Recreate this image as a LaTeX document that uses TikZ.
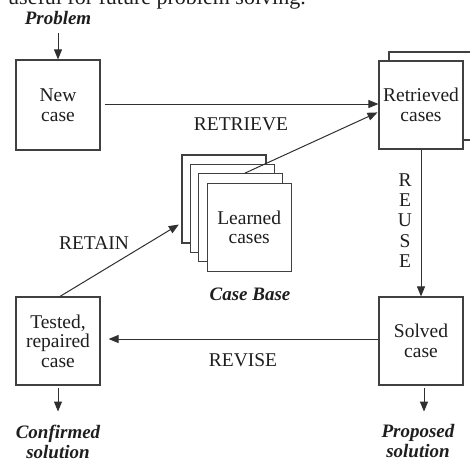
\documentclass[tikz,border=0pt]{standalone}
\usepackage{fontspec}
\setmainfont{Liberation Serif}
\usetikzlibrary{arrows.meta}
\definecolor{boxgray}{HTML}{404040}
\definecolor{linegray}{HTML}{303030}
\definecolor{txt}{HTML}{1E1E1E}
\newcommand{\lblfont}{\fontsize{19.5}{19.5}\selectfont}
\newcommand{\bifont}{\fontsize{19}{20}\selectfont\bfseries\itshape}
\begin{document}
\begin{tikzpicture}[x=1pt,y=-1pt,
  box/.style={draw=boxgray, line width=1.2pt, fill=white, minimum width=84pt,
    minimum height=88pt, inner sep=0pt, align=center, font=\lblfont, text=txt},
  lbl/.style={font=\lblfont, inner sep=0pt, text=txt, align=center},
  bi/.style={font=\bifont, inner sep=0pt, text=txt, align=center},
  arr/.style={draw=linegray, line width=1pt, -{Triangle[length=10pt,width=8pt]}}]
\clip (0,0) rectangle (470,463);
\fill[white] (0,0) rectangle (470,463);

% cropped caption line at the top
\node[anchor=base west, inner sep=0pt, text=txt, font=\fontsize{22}{22}\selectfont]
  (caption) at (8,5) {useful for future problem solving.};

% main boxes
\node[box, minimum height=90pt] (newcase) at (58,105) {New\\case};
\node[box, fill=none] (retback) at (431,96) {};
\node[box] (retrieved) at (421,105) {Retrieved\\cases};
\node[box] (solved) at (421,341) {Solved\\case};
\node[box] (tested) at (58,341) {Tested,\\repaired\\case};

% case base stack
\node[box] (card1) at (224,199) {};
\node[box] (card2) at (232.4,208.4) {};
\node[box] (card3) at (240.8,217.8) {};
\node[box] (card4) at (249.2,227.2) {Learned\\cases};

% labels
\node[bi] (problem) at (58,18.5) {Problem};
\node[bi] (casebase) at (250,294) {Case Base};
\node[bi] (confirmed) at (58,441.5) {Confirmed\\solution};
\node[bi] (proposed) at (418,441.5) {Proposed\\solution};
\node[lbl] (lretrieve) at (241,124.5) {RETRIEVE};
\node[lbl] (lrevise) at (243,360) {REVISE};
\node[lbl] (lretain) at (94,243.5) {RETAIN};
\node[lbl, font=\fontsize{19.5}{20.3}\selectfont] (lreuse) at (405,220.5) {R\\E\\U\\S\\E};

% connectors
\draw[arr, shorten <=8pt] (problem.south) -- (newcase.north);
\draw[arr, shorten <=4pt] ([yshift=1pt]newcase.east) -- ([yshift=1pt]retrieved.west);
\draw[arr, shorten >=1pt] ([xshift=4pt]card3.north) -- ([yshift=-7pt]retrieved.west);
\draw[arr] (retrieved.south) -- (solved.north);
\draw[arr, shorten >=8pt] ([yshift=2pt]solved.west) -- ([yshift=2pt]tested.east);
\draw[arr, shorten >=3pt] ([xshift=2pt]tested.north) -- ([yshift=-24pt]card1.west);
\draw[arr, shorten <=2pt, shorten >=13pt] (tested.south) -- (confirmed.north);
\draw[arr, shorten <=2pt, shorten >=13pt] ([xshift=3pt]solved.south) -- ([xshift=3pt]solved.south |- proposed.north);
\end{tikzpicture}
\end{document}
